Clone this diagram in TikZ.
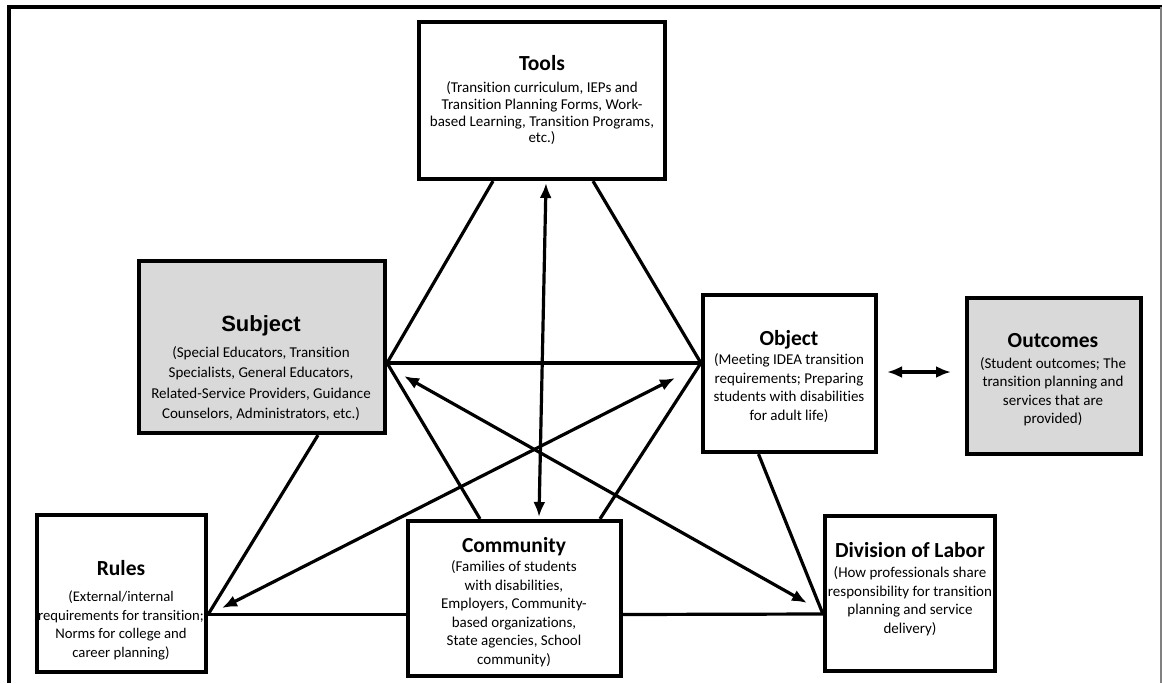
\documentclass[tikz,border=0pt]{standalone}
\usepackage{fontspec}
\setmainfont{Carlito}[Ligatures=NoCommon]
\newfontfamily\arialfont{Liberation Sans}
\usetikzlibrary{arrows.meta,calc}
\definecolor{boxgray}{RGB}{217,217,217}
\newcommand\ttl[1]{{\fontsize{21.5}{22}\selectfont\bfseries #1}}
\newcommand\subjttl[1]{{\arialfont\fontsize{22}{22}\selectfont\bfseries #1}}
\begin{document}
\begin{tikzpicture}[x=1pt,y=-1pt,
  box/.style={draw=black, line width=4.2pt, inner sep=0pt},
  gbox/.style={box, fill=boxgray},
  txt/.style={align=center, font=\fontsize{15}{18.5}\selectfont, inner sep=0pt},
  link/.style={line width=3.2pt},
  arr/.style={line width=3.2pt, {Latex[length=15pt,width=12pt]}-{Latex[length=15pt,width=12pt]}},
]
\useasboundingbox (0,0) rectangle (1162,683);
\fill[white] (0,0) rectangle (1162,683);
% frame
\draw[line width=4pt] (9,683) -- (9,7) -- (1162,7);
\draw[gray, line width=1.5pt] (1161,7) -- (1161,683);

% boxes
\node[box,  minimum width=246pt, minimum height=157pt] (tools) at (542,100.5) {};
\node[gbox, minimum width=246pt, minimum height=172pt] (sub)   at (262,347) {};
\node[box,  minimum width=173pt, minimum height=157pt] (obj)   at (789.5,373.5) {};
\node[gbox, minimum width=174pt, minimum height=156pt] (out)   at (1054,376) {};
\node[box,  minimum width=169pt, minimum height=157pt] (rules) at (121.5,593.5) {};
\node[box,  minimum width=213pt, minimum height=155pt] (com)   at (514.5,598.5) {};
\node[box,  minimum width=170pt, minimum height=155pt] (div)   at (910,593.5) {};

% texts
\node[txt, font=\fontsize{15}{16.7}\selectfont] (toolsT) at (542,100) {\ttl{Tools}\\[6pt](Transition curriculum, IEPs and\\Transition Planning Forms, Work-\\based Learning, Transition Programs,\\etc.)};
\node[txt, font=\fontsize{15}{20.2}\selectfont] (subT) at (261,368) {\subjttl{Subject}\\[6pt](Special Educators, Transition\\Specialists, General Educators,\\Related-Service Providers, Guidance\\Counselors, Administrators, etc.)};
\node[txt] (objT) at (789,376) {\ttl{Object}\\[1pt](Meeting IDEA transition\\requirements; Preparing\\students with disabilities\\for adult life)};
\node[txt] (outT) at (1053,380) {\ttl{Outcomes}\\[2pt](Student outcomes; The\\transition planning and\\services that are\\provided)};
\node[txt, font=\fontsize{14.7}{18.5}\selectfont] (rulesT) at (121,610) {\ttl{Rules}\\[8pt](External/internal\\requirements for transition;\\Norms for college and\\career planning)};
\node[txt] (comT) at (514,602) {\ttl{Community}\\[1pt](Families of students\\with disabilities,\\Employers, Community-\\based organizations,\\State agencies, School\\community)};
\node[txt] (divT) at (910,589) {\ttl{Division of Labor}\\[2pt](How professionals share\\responsibility for transition\\planning and service\\delivery)};

% triangle lines
\draw[link] ([xshift=-49pt]tools.south) -- ([yshift=-16pt]sub.east);
\draw[link] ([xshift=51pt]tools.south) -- ([yshift=10.5pt]obj.west);
\draw[link] ([yshift=-16pt]sub.east) -- ([yshift=10.5pt]obj.west);
\draw[link] ([yshift=-16pt]sub.east) -- ([xshift=-34.5pt]com.north);
\draw[link] ([yshift=10.5pt]obj.west) -- ([xshift=85.5pt]com.north);
\draw[link] ([xshift=56pt]sub.south) -- ([yshift=-21pt]rules.east);
\draw[link] ([xshift=-31pt]obj.south) -- ([yshift=-20.5pt]div.west);
\draw[link] ([yshift=-21pt]rules.east) -- ([yshift=-16pt]com.west);
\draw[link] ([yshift=-16pt]com.east) -- ([yshift=-20.5pt]div.west);

% arrow end points
\coordinate (aTools) at (546,183);
\coordinate (aCom)   at (539,517);
\coordinate (aSub)   at (404,376);
\coordinate (aDiv)   at (807,603);
\coordinate (aObj)   at (675,378);
\coordinate (aRules) at (222,608);
\coordinate (aObjR)  at (887,372);
\coordinate (aOutL)  at (951,372);

\draw[arr] (aTools) -- (aCom);
\draw[arr] (aSub) -- (aDiv);
\draw[arr] (aObj) -- (aRules);
\draw[arr] (aObjR) -- (aOutL);
\end{tikzpicture}
\end{document}
